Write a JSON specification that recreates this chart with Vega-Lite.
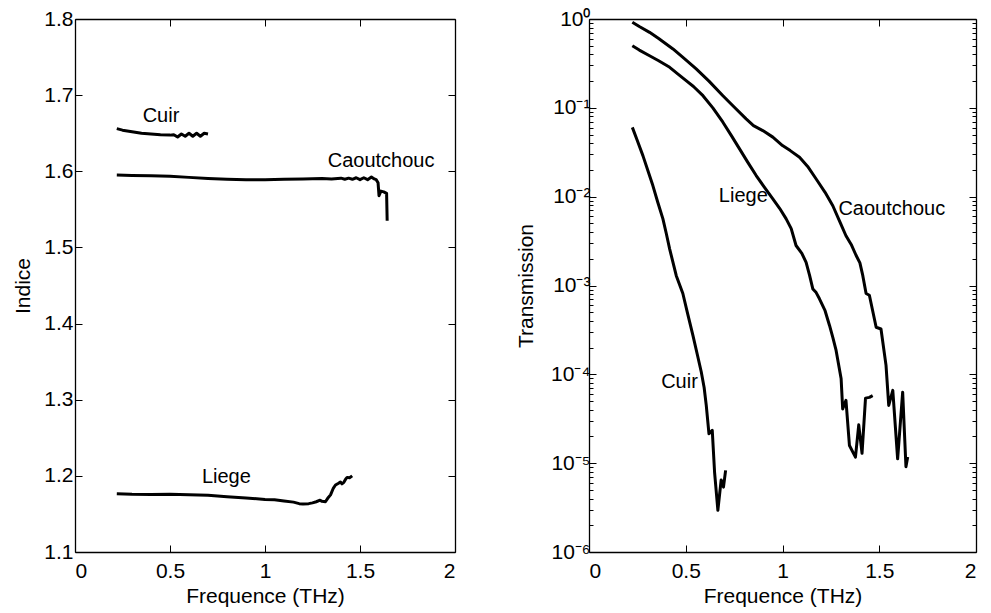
{
  "$schema": "https://vega.github.io/schema/vega-lite/v6.json",
  "background": "white",
  "padding": {"left": 12, "top": 8, "right": 5, "bottom": 5},
  "config": {
    "font": "Liberation Sans",
    "view": {"stroke": null},
    "axis": {
      "domainColor": "black", "tickColor": "black", "labelColor": "black", "titleColor": "black",
      "labelFont": "Liberation Sans", "titleFont": "Liberation Sans",
      "labelFontSize": 21, "titleFontSize": 21, "titleFontWeight": "normal",
      "grid": false, "domainWidth": 1.3, "tickWidth": 1
    }
  },
  "datasets": {
    "indice": [
      {"s": "Cuir", "f": 0.22, "n": 1.656}, {"s": "Cuir", "f": 0.25, "n": 1.654}, {"s": "Cuir", "f": 0.3, "n": 1.652},
      {"s": "Cuir", "f": 0.35, "n": 1.65}, {"s": "Cuir", "f": 0.4, "n": 1.649}, {"s": "Cuir", "f": 0.45, "n": 1.648},
      {"s": "Cuir", "f": 0.5, "n": 1.6475}, {"s": "Cuir", "f": 0.52, "n": 1.648}, {"s": "Cuir", "f": 0.54, "n": 1.645},
      {"s": "Cuir", "f": 0.56, "n": 1.649}, {"s": "Cuir", "f": 0.58, "n": 1.646}, {"s": "Cuir", "f": 0.6, "n": 1.65},
      {"s": "Cuir", "f": 0.62, "n": 1.646}, {"s": "Cuir", "f": 0.64, "n": 1.65}, {"s": "Cuir", "f": 0.66, "n": 1.646},
      {"s": "Cuir", "f": 0.68, "n": 1.65}, {"s": "Cuir", "f": 0.70, "n": 1.649},
      {"s": "Caoutchouc", "f": 0.22, "n": 1.595}, {"s": "Caoutchouc", "f": 0.3, "n": 1.5945}, {"s": "Caoutchouc", "f": 0.4, "n": 1.594},
      {"s": "Caoutchouc", "f": 0.5, "n": 1.5935}, {"s": "Caoutchouc", "f": 0.6, "n": 1.592}, {"s": "Caoutchouc", "f": 0.7, "n": 1.5905},
      {"s": "Caoutchouc", "f": 0.8, "n": 1.5895}, {"s": "Caoutchouc", "f": 0.9, "n": 1.589}, {"s": "Caoutchouc", "f": 1.0, "n": 1.589},
      {"s": "Caoutchouc", "f": 1.1, "n": 1.5895}, {"s": "Caoutchouc", "f": 1.2, "n": 1.59}, {"s": "Caoutchouc", "f": 1.3, "n": 1.5905},
      {"s": "Caoutchouc", "f": 1.35, "n": 1.59}, {"s": "Caoutchouc", "f": 1.4, "n": 1.591}, {"s": "Caoutchouc", "f": 1.42, "n": 1.5895},
      {"s": "Caoutchouc", "f": 1.44, "n": 1.591}, {"s": "Caoutchouc", "f": 1.46, "n": 1.5895}, {"s": "Caoutchouc", "f": 1.48, "n": 1.5915},
      {"s": "Caoutchouc", "f": 1.5, "n": 1.589}, {"s": "Caoutchouc", "f": 1.52, "n": 1.5915}, {"s": "Caoutchouc", "f": 1.54, "n": 1.589},
      {"s": "Caoutchouc", "f": 1.56, "n": 1.5925}, {"s": "Caoutchouc", "f": 1.575, "n": 1.59}, {"s": "Caoutchouc", "f": 1.585, "n": 1.589},
      {"s": "Caoutchouc", "f": 1.595, "n": 1.585}, {"s": "Caoutchouc", "f": 1.6, "n": 1.568}, {"s": "Caoutchouc", "f": 1.61, "n": 1.574},
      {"s": "Caoutchouc", "f": 1.625, "n": 1.573}, {"s": "Caoutchouc", "f": 1.64, "n": 1.571}, {"s": "Caoutchouc", "f": 1.643, "n": 1.535},
      {"s": "Liege", "f": 0.22, "n": 1.1765}, {"s": "Liege", "f": 0.3, "n": 1.1758}, {"s": "Liege", "f": 0.4, "n": 1.1755},
      {"s": "Liege", "f": 0.5, "n": 1.1757}, {"s": "Liege", "f": 0.6, "n": 1.1752}, {"s": "Liege", "f": 0.7, "n": 1.1745},
      {"s": "Liege", "f": 0.8, "n": 1.1725}, {"s": "Liege", "f": 0.9, "n": 1.171}, {"s": "Liege", "f": 1.0, "n": 1.169},
      {"s": "Liege", "f": 1.05, "n": 1.1685}, {"s": "Liege", "f": 1.1, "n": 1.167}, {"s": "Liege", "f": 1.15, "n": 1.1655},
      {"s": "Liege", "f": 1.18, "n": 1.1635}, {"s": "Liege", "f": 1.2, "n": 1.163}, {"s": "Liege", "f": 1.23, "n": 1.1635},
      {"s": "Liege", "f": 1.25, "n": 1.1645}, {"s": "Liege", "f": 1.27, "n": 1.166}, {"s": "Liege", "f": 1.29, "n": 1.168},
      {"s": "Liege", "f": 1.3, "n": 1.1665}, {"s": "Liege", "f": 1.318, "n": 1.166}, {"s": "Liege", "f": 1.33, "n": 1.1705},
      {"s": "Liege", "f": 1.345, "n": 1.175}, {"s": "Liege", "f": 1.36, "n": 1.184}, {"s": "Liege", "f": 1.371, "n": 1.188},
      {"s": "Liege", "f": 1.385, "n": 1.19}, {"s": "Liege", "f": 1.397, "n": 1.192}, {"s": "Liege", "f": 1.405, "n": 1.1895},
      {"s": "Liege", "f": 1.415, "n": 1.1915}, {"s": "Liege", "f": 1.425, "n": 1.196}, {"s": "Liege", "f": 1.432, "n": 1.198},
      {"s": "Liege", "f": 1.445, "n": 1.1975}, {"s": "Liege", "f": 1.459, "n": 1.2}
    ],
    "indiceLabels": [
      {"label": "Cuir", "f": 0.356, "n": 1.673},
      {"label": "Caoutchouc", "f": 1.33, "n": 1.613},
      {"label": "Liege", "f": 0.668, "n": 1.199}
    ],
    "trans": [
      {"s": "Caoutchouc", "f": 0.224, "t": 0.918}, {"s": "Caoutchouc", "f": 0.26, "t": 0.822}, {"s": "Caoutchouc", "f": 0.313, "t": 0.708},
      {"s": "Caoutchouc", "f": 0.36, "t": 0.603}, {"s": "Caoutchouc", "f": 0.434, "t": 0.46}, {"s": "Caoutchouc", "f": 0.49, "t": 0.363},
      {"s": "Caoutchouc", "f": 0.554, "t": 0.274}, {"s": "Caoutchouc", "f": 0.62, "t": 0.2}, {"s": "Caoutchouc", "f": 0.692, "t": 0.137},
      {"s": "Caoutchouc", "f": 0.75, "t": 0.102}, {"s": "Caoutchouc", "f": 0.812, "t": 0.075}, {"s": "Caoutchouc", "f": 0.85, "t": 0.063},
      {"s": "Caoutchouc", "f": 0.898, "t": 0.0555}, {"s": "Caoutchouc", "f": 0.95, "t": 0.0468}, {"s": "Caoutchouc", "f": 1.0, "t": 0.0376},
      {"s": "Caoutchouc", "f": 1.04, "t": 0.033}, {"s": "Caoutchouc", "f": 1.088, "t": 0.0278}, {"s": "Caoutchouc", "f": 1.13, "t": 0.0219},
      {"s": "Caoutchouc", "f": 1.174, "t": 0.0158}, {"s": "Caoutchouc", "f": 1.22, "t": 0.0112}, {"s": "Caoutchouc", "f": 1.26, "t": 0.0079},
      {"s": "Caoutchouc", "f": 1.3, "t": 0.005}, {"s": "Caoutchouc", "f": 1.328, "t": 0.00363}, {"s": "Caoutchouc", "f": 1.355, "t": 0.0029},
      {"s": "Caoutchouc", "f": 1.38, "t": 0.00219}, {"s": "Caoutchouc", "f": 1.4, "t": 0.0018}, {"s": "Caoutchouc", "f": 1.415, "t": 0.00129},
      {"s": "Caoutchouc", "f": 1.432, "t": 0.000813}, {"s": "Caoutchouc", "f": 1.449, "t": 0.000776}, {"s": "Caoutchouc", "f": 1.484, "t": 0.000339},
      {"s": "Caoutchouc", "f": 1.509, "t": 0.000324}, {"s": "Caoutchouc", "f": 1.535, "t": 0.000126}, {"s": "Caoutchouc", "f": 1.549, "t": 0.0000447},
      {"s": "Caoutchouc", "f": 1.57, "t": 0.000066}, {"s": "Caoutchouc", "f": 1.595, "t": 0.0000112}, {"s": "Caoutchouc", "f": 1.621, "t": 0.000063},
      {"s": "Caoutchouc", "f": 1.638, "t": 0.0000091}, {"s": "Caoutchouc", "f": 1.647, "t": 0.0000117},
      {"s": "Liege", "f": 0.224, "t": 0.5}, {"s": "Liege", "f": 0.26, "t": 0.447}, {"s": "Liege", "f": 0.313, "t": 0.386},
      {"s": "Liege", "f": 0.36, "t": 0.339}, {"s": "Liege", "f": 0.417, "t": 0.286}, {"s": "Liege", "f": 0.46, "t": 0.24},
      {"s": "Liege", "f": 0.502, "t": 0.202}, {"s": "Liege", "f": 0.54, "t": 0.174}, {"s": "Liege", "f": 0.589, "t": 0.137},
      {"s": "Liege", "f": 0.64, "t": 0.1}, {"s": "Liege", "f": 0.692, "t": 0.0689}, {"s": "Liege", "f": 0.735, "t": 0.049},
      {"s": "Liege", "f": 0.778, "t": 0.0345}, {"s": "Liege", "f": 0.82, "t": 0.0245}, {"s": "Liege", "f": 0.864, "t": 0.0173},
      {"s": "Liege", "f": 0.905, "t": 0.0129}, {"s": "Liege", "f": 0.95, "t": 0.00944}, {"s": "Liege", "f": 0.985, "t": 0.0074},
      {"s": "Liege", "f": 1.019, "t": 0.00562}, {"s": "Liege", "f": 1.045, "t": 0.00437}, {"s": "Liege", "f": 1.07, "t": 0.00282},
      {"s": "Liege", "f": 1.1, "t": 0.0023}, {"s": "Liege", "f": 1.122, "t": 0.00182}, {"s": "Liege", "f": 1.14, "t": 0.0013},
      {"s": "Liege", "f": 1.157, "t": 0.000912}, {"s": "Liege", "f": 1.174, "t": 0.000832},
      {"s": "Liege", "f": 1.191, "t": 0.000708}, {"s": "Liege", "f": 1.22, "t": 0.00052}, {"s": "Liege", "f": 1.243, "t": 0.000355},
      {"s": "Liege", "f": 1.26, "t": 0.00026}, {"s": "Liege", "f": 1.277, "t": 0.000186},
      {"s": "Liege", "f": 1.303, "t": 0.000089}, {"s": "Liege", "f": 1.311, "t": 0.0000407}, {"s": "Liege", "f": 1.328, "t": 0.000051},
      {"s": "Liege", "f": 1.346, "t": 0.0000158}, {"s": "Liege", "f": 1.377, "t": 0.0000117}, {"s": "Liege", "f": 1.394, "t": 0.000027},
      {"s": "Liege", "f": 1.411, "t": 0.0000129}, {"s": "Liege", "f": 1.429, "t": 0.000054}, {"s": "Liege", "f": 1.449, "t": 0.000055},
      {"s": "Liege", "f": 1.466, "t": 0.0000575},
      {"s": "Cuir", "f": 0.224, "t": 0.0603}, {"s": "Cuir", "f": 0.25, "t": 0.0427}, {"s": "Cuir", "f": 0.279, "t": 0.0288},
      {"s": "Cuir", "f": 0.305, "t": 0.0195}, {"s": "Cuir", "f": 0.33, "t": 0.01334}, {"s": "Cuir", "f": 0.355, "t": 0.0087},
      {"s": "Cuir", "f": 0.382, "t": 0.00562}, {"s": "Cuir", "f": 0.4, "t": 0.0038}, {"s": "Cuir", "f": 0.417, "t": 0.00257},
      {"s": "Cuir", "f": 0.434, "t": 0.00182}, {"s": "Cuir", "f": 0.451, "t": 0.00129}, {"s": "Cuir", "f": 0.485, "t": 0.000813},
      {"s": "Cuir", "f": 0.51, "t": 0.000479}, {"s": "Cuir", "f": 0.537, "t": 0.000275}, {"s": "Cuir", "f": 0.56, "t": 0.000166},
      {"s": "Cuir", "f": 0.58, "t": 0.000107}, {"s": "Cuir", "f": 0.595, "t": 0.000071},
      {"s": "Cuir", "f": 0.606, "t": 0.0000447}, {"s": "Cuir", "f": 0.62, "t": 0.0000214}, {"s": "Cuir", "f": 0.637, "t": 0.0000234},
      {"s": "Cuir", "f": 0.649, "t": 0.0000079}, {"s": "Cuir", "f": 0.666, "t": 0.00000295}, {"s": "Cuir", "f": 0.683, "t": 0.00000646},
      {"s": "Cuir", "f": 0.695, "t": 0.00000537}, {"s": "Cuir", "f": 0.706, "t": 0.0000083}
    ],
    "transLabels": [
      {"label": "Liege", "f": 0.671, "t": 0.0102},
      {"label": "Caoutchouc", "f": 1.289, "t": 0.0072},
      {"label": "Cuir", "f": 0.373, "t": 0.000081}
    ]
  },
  "spacing": 134,
  "bounds": "flush",
  "hconcat": [
    {
      "width": 380,
      "height": 533,
      "layer": [
        {
          "data": {"name": "indice"},
          "mark": {"type": "line", "color": "black", "strokeWidth": 3, "strokeJoin": "round"},
          "encoding": {
            "x": {"field": "f", "type": "quantitative", "scale": {"domain": [0, 2], "nice": false},
                  "axis": {"orient": "bottom", "values": [0, 0.5, 1, 1.5, 2], "format": "~g", "tickSize": -7, "labelPadding": 15, "title": "Frequence (THz)", "titlePadding": 4}},
            "y": {"field": "n", "type": "quantitative", "scale": {"domain": [1.1, 1.8], "nice": false, "zero": false},
                  "axis": {"orient": "left", "values": [1.1, 1.2, 1.3, 1.4, 1.5, 1.6, 1.7, 1.8], "format": ".1f", "tickSize": -7, "labelPadding": 9, "title": "Indice", "titlePadding": 10}},
            "detail": {"field": "s"}
          }
        },
        {
          "data": {"name": "indiceLabels"},
          "mark": {"type": "text", "align": "left", "baseline": "middle", "fontSize": 20, "font": "Liberation Sans", "color": "black"},
          "encoding": {
            "x": {"field": "f", "type": "quantitative", "axis": {"orient": "top", "values": [0, 0.5, 1, 1.5, 2], "labels": false, "title": null, "tickSize": -7}},
            "y": {"field": "n", "type": "quantitative", "axis": {"orient": "right", "values": [1.1, 1.2, 1.3, 1.4, 1.5, 1.6, 1.7, 1.8], "labels": false, "title": null, "tickSize": -7}},
            "text": {"field": "label"}
          }
        }
      ],
      "resolve": {"axis": {"x": "independent", "y": "independent"}}
    },
    {
      "width": 387,
      "height": 533,
      "layer": [
        {
          "data": {"name": "trans"},
          "mark": {"type": "line", "color": "black", "strokeWidth": 3, "strokeJoin": "round"},
          "encoding": {
            "x": {"field": "f", "type": "quantitative", "scale": {"domain": [0, 2], "nice": false},
                  "axis": {"orient": "bottom", "values": [0, 0.5, 1, 1.5, 2], "format": "~g", "tickSize": -7, "labelPadding": 15, "title": "Frequence (THz)", "titlePadding": 4}},
            "y": {"field": "t", "type": "quantitative", "scale": {"type": "log", "domain": [0.000001, 1], "nice": false},
                  "axis": {"orient": "left",
                           "values": [0.000001, 0.000002, 0.000003, 0.000004, 0.000005, 0.000006, 0.000007, 0.000008, 0.000009, 0.00001, 0.00002, 0.00003, 0.00004, 0.00005, 0.00006, 0.00007, 0.00008, 0.00009, 0.0001, 0.0002, 0.0003, 0.0004, 0.0005, 0.0006, 0.0007, 0.0008, 0.0009, 0.001, 0.002, 0.003, 0.004, 0.005, 0.006, 0.007, 0.008, 0.009, 0.01, 0.02, 0.03, 0.04, 0.05, 0.06, 0.07, 0.08, 0.09, 0.1, 0.2, 0.3, 0.4, 0.5, 0.6, 0.7, 0.8, 0.9, 1],
                           "labelOverlap": false,
                           "labelExpr": "abs(log(datum.value)/LN10 - round(log(datum.value)/LN10)) < 0.01 ? {'0':'10⁰','-1':'10⁻¹','-2':'10⁻²','-3':'10⁻³','-4':'10⁻⁴','-5':'10⁻⁵','-6':'10⁻⁶'}['' + round(log(datum.value)/LN10)] : ''",
                           "tickSize": {"condition": {"test": "abs(log(datum.value)/LN10 - round(log(datum.value)/LN10)) < 0.01", "value": -7}, "value": -4},
                           "labelPadding": 6, "title": "Transmission", "titlePadding": 14}},
            "detail": {"field": "s"}
          }
        },
        {
          "data": {"name": "transLabels"},
          "mark": {"type": "text", "align": "left", "baseline": "middle", "fontSize": 20, "font": "Liberation Sans", "color": "black"},
          "encoding": {
            "x": {"field": "f", "type": "quantitative", "axis": {"orient": "top", "values": [0, 0.5, 1, 1.5, 2], "labels": false, "title": null, "tickSize": -7}},
            "y": {"field": "t", "type": "quantitative",
                  "axis": {"orient": "right",
                           "values": [0.000001, 0.000002, 0.000003, 0.000004, 0.000005, 0.000006, 0.000007, 0.000008, 0.000009, 0.00001, 0.00002, 0.00003, 0.00004, 0.00005, 0.00006, 0.00007, 0.00008, 0.00009, 0.0001, 0.0002, 0.0003, 0.0004, 0.0005, 0.0006, 0.0007, 0.0008, 0.0009, 0.001, 0.002, 0.003, 0.004, 0.005, 0.006, 0.007, 0.008, 0.009, 0.01, 0.02, 0.03, 0.04, 0.05, 0.06, 0.07, 0.08, 0.09, 0.1, 0.2, 0.3, 0.4, 0.5, 0.6, 0.7, 0.8, 0.9, 1],
                           "labels": false, "title": null,
                           "tickSize": {"condition": {"test": "abs(log(datum.value)/LN10 - round(log(datum.value)/LN10)) < 0.01", "value": -7}, "value": -4}}},
            "text": {"field": "label"}
          }
        }
      ],
      "resolve": {"axis": {"x": "independent", "y": "independent"}}
    }
  ]
}
